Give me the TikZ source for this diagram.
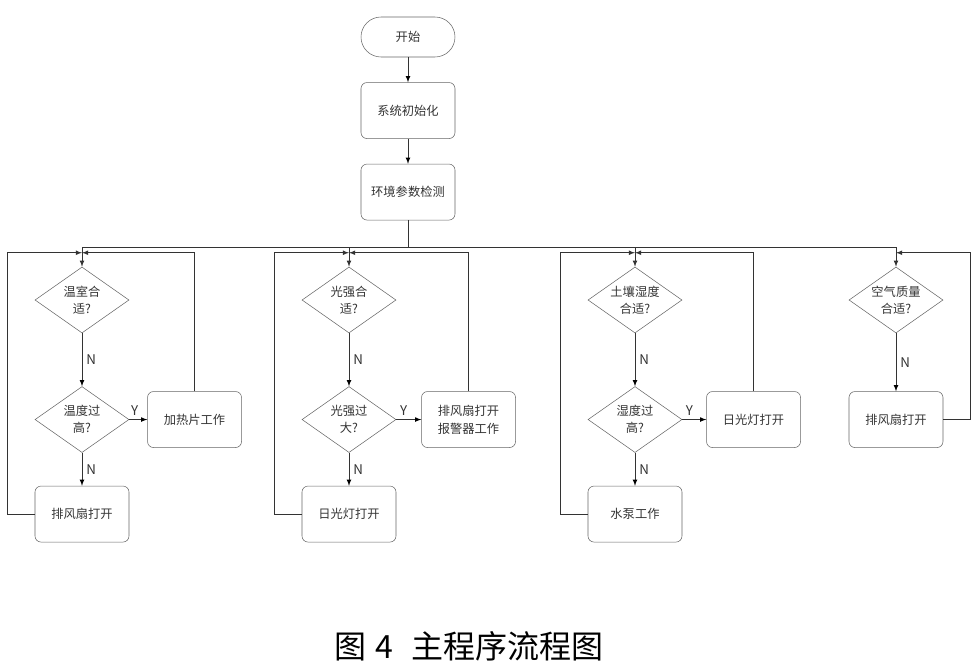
\documentclass[tikz,border=0pt]{standalone}
\usepackage{fontspec}
\newfontfamily\cjk{Noto Sans CJK SC}
\usetikzlibrary{arrows,shapes,calc,positioning}
\tikzstyle{every picture}+=[font=\cjk]

\begin{document}
\begin{tikzpicture}[x=0.75pt,y=-0.75pt,>=latex,
    every node/.style={text=black!80},
    box/.style={draw=black!60,rounded corners=4.5pt,align=center,minimum width=70.5pt,minimum height=42pt,inner sep=0pt,font=\cjk\fontsize{9.2}{13.5}\selectfont},
    term/.style={box,rounded corners=15pt,minimum height=30pt},
    cond/.style={diamond,draw=black!60,minimum width=70.5pt,minimum height=49.5pt,inner sep=-8pt,align=center,font=\cjk\fontsize{9.2}{12.75}\selectfont},
    lab/.style={font=\cjk\fontsize{10}{12}\selectfont,inner sep=3pt},
    line/.style={draw=black!80,line width=0.6pt},
    node distance=18.75pt]
    \useasboundingbox (0,0) rectangle (976,665);
    \node [term] (start) at (408,37) {开始};
    \node [box] (init) [below=of start] {系统初始化};
    \node [box] (detect) [below=of init] {环境参数检测};
    % four branches
    \node [cond] (temp) at (82,300) {温室合\\适?};
    \node [cond] (tempHigh) [below=39.75pt of temp] {温度过\\高?};
    \node [box] (fanA) [below=24.75pt of tempHigh] {排风扇打开};
    \node [box] (heater) [right=13.5pt of tempHigh] {加热片工作};
    \node [cond] (light) at (349,300) {光强合\\适?};
    \node [cond] (lightHigh) [below=39.75pt of light] {光强过\\大?};
    \node [box] (lampA) [below=24.75pt of lightHigh] {日光灯打开};
    \node [box] (alarm) [right=18.75pt of lightHigh] {排风扇打开\\报警器工作};
    \node [cond] (soil) at (635,300) {土壤湿度\\合适?};
    \node [cond] (soilHigh) [below=39.75pt of soil] {湿度过\\高?};
    \node [box] (pump) [below=24.75pt of soilHigh] {水泵工作};
    \node [box] (lampB) [right=18pt of soilHigh] {日光灯打开};
    \node [cond] (air) at (896,300) {空气质量\\合适?};
    \node [box] (fanB) [below=43.5pt of air] {排风扇打开};
    \node [font=\cjk\fontsize{24}{28}\selectfont,text=black] (caption) at (469,646) {图\hspace{7pt}4\hspace{14pt}主程序流程图};
    \coordinate (bus) at ($(detect.south)+(0,27)$);
    \foreach \c in {temp,light,soil,air}
        \coordinate (j\c) at ($(\c.north)+(0,-14)$);
    \path [->,line] (start) edge (init) (init) edge (detect);
    \draw [line] (detect.south) -- (bus) (bus -| temp) -- (bus -| air);
    \foreach \c in {temp,light,soil,air}
        \draw [->,line] (bus -| \c) -- (\c.north);
    \path [->,line] (temp) edge node[lab,right]{N} (tempHigh) (tempHigh) edge node[lab,right]{N} (fanA)
        (tempHigh) edge node[lab,above,pos=0.3]{Y} (heater)
        (light) edge node[lab,right]{N} (lightHigh) (lightHigh) edge node[lab,right]{N} (lampA)
        (lightHigh) edge node[lab,above,pos=0.3]{Y} (alarm)
        (soil) edge node[lab,right]{N} (soilHigh) (soilHigh) edge node[lab,right]{N} (pump)
        (soilHigh) edge node[lab,above,pos=0.3]{Y} (lampB)
        (air) edge node[lab,right]{N} (fanB);
    % loops back to the checks
    \draw [->,line] (fanA.west) -- ++(-27,0) |- (jtemp);
    \draw [->,line] (heater.north) |- (jtemp);
    \draw [->,line] (lampA.west) -- ++(-27,0) |- (jlight);
    \draw [->,line] (alarm.north) |- (jlight);
    \draw [->,line] (pump.west) -- ++(-27,0) |- (jsoil);
    \draw [->,line] (lampB.north) |- (jsoil);
    \draw [->,line] (fanB.east) -- ++(27,0) |- (jair);
\end{tikzpicture}
\end{document}
